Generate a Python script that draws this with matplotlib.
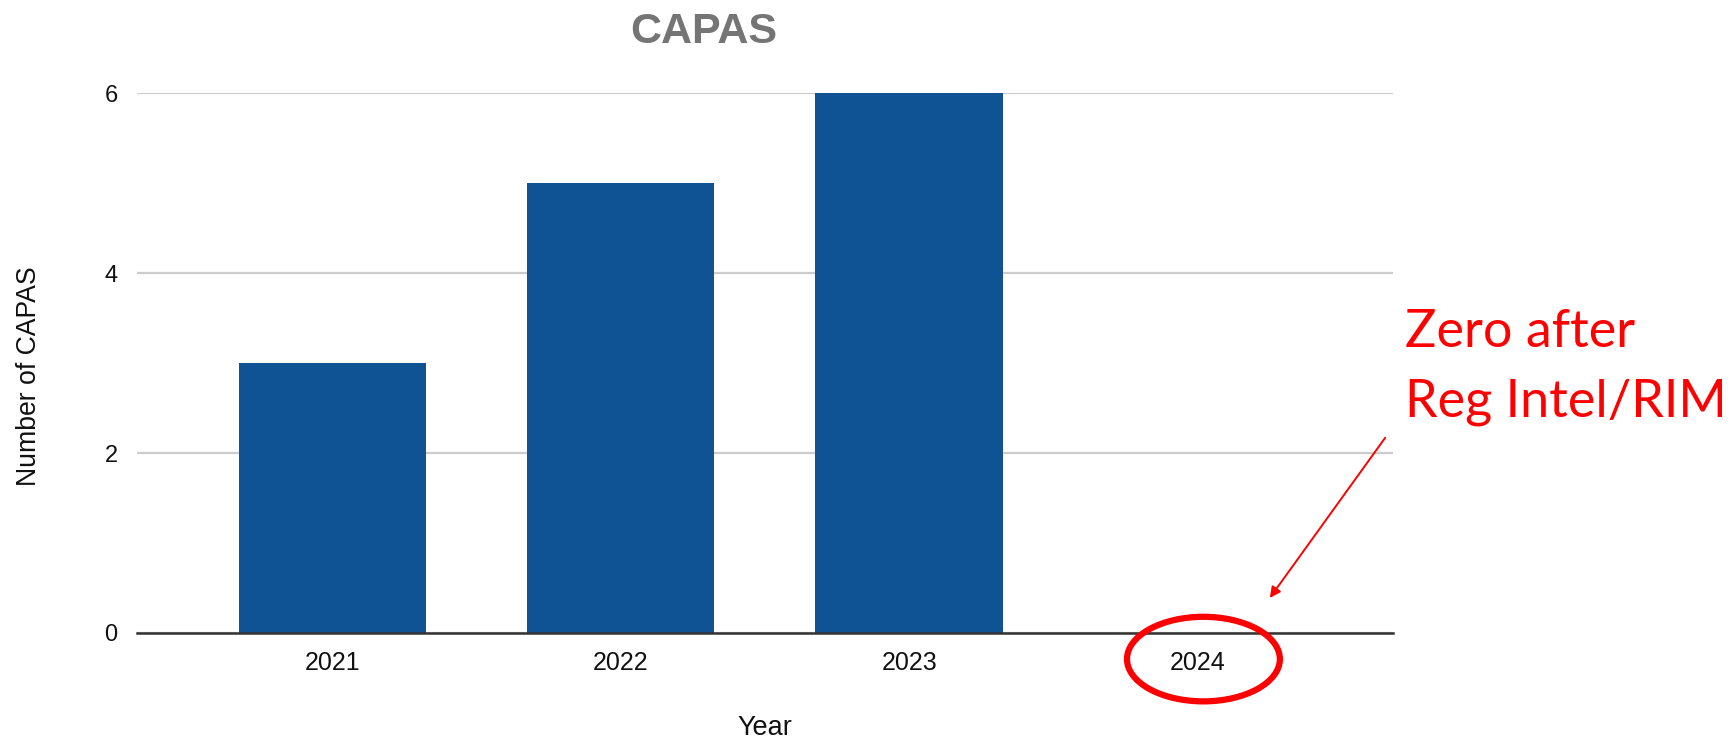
import matplotlib
matplotlib.use("Agg")
import matplotlib.pyplot as plt
from matplotlib.patches import Ellipse

# CAPAs per year
years = ["2021", "2022", "2023", "2024"]
capas = [3, 5, 6, 0]
y_ticks = [0, 2, 4, 6]

note_lines = ["Zero after", "Reg Intel/RIM"]

bar_color = "#0f5394"
grid_color = "#cccccc"

plt.rcParams["font.family"] = ["Liberation Sans", "DejaVu Sans"]

fig = plt.figure(figsize=(17.36, 7.40), dpi=100)
ax = fig.add_axes([0.0789, 0.1446, 0.8024 - 0.0789, 0.874 - 0.1446])

x = list(range(len(years)))
ax.bar(x, capas, width=0.65, color=bar_color, zorder=3)

ax.set_xlim(-0.677, 3.677)
ax.set_ylim(0, 6)
ax.set_xticks(x)
ax.set_xticklabels(years, fontsize=18)
ax.set_yticks(y_ticks)
ax.set_yticklabels([str(v) for v in y_ticks], fontsize=17)
ax.tick_params(axis="both", length=0, colors="#111111")
ax.tick_params(axis="x", pad=13)
ax.tick_params(axis="y", pad=14)

# light horizontal gridlines, dark baseline
ax.grid(axis="y", color=grid_color, linewidth=1.6, zorder=0)
ax.set_axisbelow(True)
for side in ["top", "right", "left"]:
    ax.spines[side].set_visible(False)
ax.spines["bottom"].set_color("#333333")
ax.spines["bottom"].set_linewidth(1.8)
ax.spines["bottom"].set_zorder(4)

ax.set_xlabel("Year", fontsize=19.5, color="#111111", labelpad=29)
ax.set_ylabel("Number of CAPAS", fontsize=19.2, color="#111111")
ax.yaxis.set_label_coords(-0.0755, 0.476)

fig.text(0.4055, 0.957, "CAPAS", fontsize=31, fontweight="bold",
         color="#757575", ha="center", va="center")

# red callout around the 2024 label
ax.add_patch(Ellipse((3.02, -0.29), width=0.53, height=0.94, transform=ax.transData,
                     fill=False, edgecolor="red", linewidth=4.5, clip_on=False, zorder=5))
ax.annotate("", xy=(3.25, 0.39), xytext=(3.65, 2.17),
            xycoords="data", textcoords="data",
            arrowprops=dict(arrowstyle="-|>", color="red", lw=1.4,
                            mutation_scale=16, shrinkA=0, shrinkB=0),
            annotation_clip=False)
for line, y in zip(note_lines, [0.5311, 0.4365]):
    fig.text(0.8093, y, line, fontsize=37.5, color="red",
             family=["Lato", "DejaVu Sans"], ha="left", va="baseline")

fig.savefig("out.png", dpi=100)
